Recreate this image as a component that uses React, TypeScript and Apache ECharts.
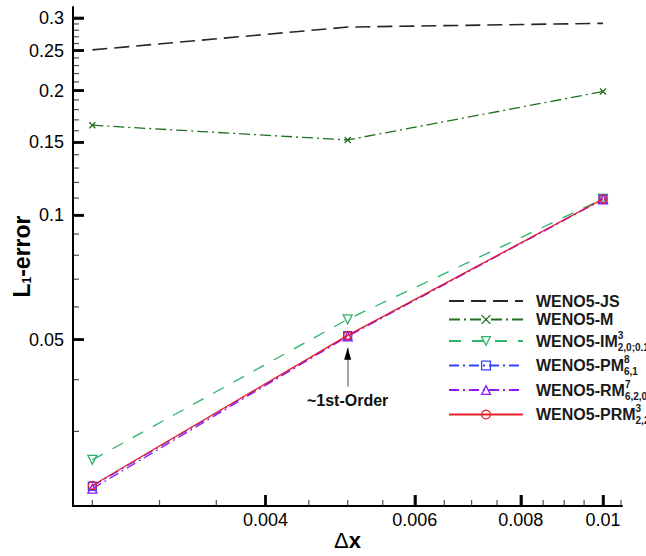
import { useEffect, useRef } from "react";
import * as echarts from "echarts";

// Grid spacing (Δx) at which each scheme was run
const DX = [0.0025, 0.005, 0.01];

// L1 errors per scheme
const ERR_JS = [0.251, 0.285, 0.291];
const ERR_M = [0.165, 0.152, 0.199];
const ERR_IM = [0.0256, 0.056, 0.1095];
const ERR_PM = [0.0221, 0.0511, 0.1094];
const ERR_RM = [0.0218, 0.0509, 0.1092];
const ERR_PRM = [0.0222, 0.0512, 0.1094];

const SERIES_NAMES = ["WENO5-JS", "WENO5-M", "WENO5-IM", "WENO5-PM", "WENO5-RM", "WENO5-PRM"];
const SUPERSCRIPTS = ["", "", "3", "8", "7", "3"];
const SUBSCRIPTS = ["", "", "2,0;0.1", "6,1", "6,2,0", "2,2"];

// Axis ticks (data units; both axes are logarithmic)
const X_LABEL_TICKS = [0.004, 0.006, 0.008, 0.01];
const X_MINOR_TICKS = [0.0025, 0.003, 0.0035, 0.0045, 0.005, 0.0055, 0.0065, 0.007, 0.0075, 0.0085, 0.009, 0.0095, 0.0105];
const Y_LABEL_TICKS = [0.05, 0.1, 0.15, 0.2, 0.25, 0.3];
const Y_MINOR_TICKS = [
  0.03, 0.04, 0.06, 0.07, 0.08, 0.09, 0.11, 0.12, 0.13, 0.14, 0.16, 0.17, 0.18, 0.19,
  0.21, 0.22, 0.23, 0.24, 0.26, 0.27, 0.28, 0.29,
];
const X_RANGE = [0.002372, 0.01053];
const Y_RANGE = [0.0198, 0.3187];

// Convergence-order annotation
const ORDER_NOTE = "~1st-Order";
const ORDER_ARROW_X = 0.005;
const ORDER_ARROW_FROM = 0.0385;
const ORDER_ARROW_TO = 0.0478;

const FONT = "'Liberation Sans', Arial, Helvetica, sans-serif";

const ERRORS = [ERR_JS, ERR_M, ERR_IM, ERR_PM, ERR_RM, ERR_PRM];

const LINE_LOOKS = [
  { color: "#262626", dash: [15, 7], symbol: "none", size: 0, width: 1.6 },
  { color: "#1f6f1f", dash: [11, 4, 2, 4], symbol: "path://M0,0L10,10M10,0L0,10", size: 6, width: 1.3 },
  { color: "#2fb36a", dash: [12, 11], symbol: "path://M0,0L10,0L5,9Z", size: 9, width: 1.3 },
  { color: "#3344ff", dash: [10, 4, 2, 4], symbol: "rect", size: 8, width: 1.3 },
  { color: "#8f14ff", dash: [10, 4, 2, 4], symbol: "triangle", size: 9, width: 1.3 },
  { color: "#e8202a", dash: "solid", symbol: "circle", size: 8, width: 1.3 },
];

const fmt = (v: number) => parseFloat(Number(v).toPrecision(3)).toString();

// Inward tick bars resting on the axis lines, placed through the log scales
function tickSeries(name: string, values: number[], along: "x" | "y", len: number, width: number, color: string) {
  return {
    name,
    type: "scatter",
    symbol: "rect",
    symbolSize: along === "x" ? [width, len] : [len, width],
    symbolOffset: along === "x" ? [0, -len / 2] : [len / 2, 0],
    itemStyle: { color },
    data: values.map((v) => (along === "x" ? [v, Y_RANGE[0]] : [X_RANGE[0], v])),
  };
}

export default function App() {
  const ref = useRef<HTMLDivElement>(null);

  useEffect(() => {
    if (!ref.current) return;
    const chart = echarts.init(ref.current, undefined, { renderer: "svg" });

    const series: any[] = SERIES_NAMES.map((name, i) => {
      const look = LINE_LOOKS[i];
      return {
        name,
        type: "line",
        data: DX.map((x, j) => [x, ERRORS[i][j]]),
        symbol: look.symbol,
        symbolSize: look.size,
        showSymbol: look.symbol !== "none",
        lineStyle: { color: look.color, width: look.width, type: look.dash },
        itemStyle: {
          color: "transparent",
          borderColor: look.symbol === "none" ? "transparent" : look.color,
          borderWidth: 1.3,
        },
        emphasis: { disabled: true },
        silent: true,
        z: 2 + i,
      };
    });

    const last = series[series.length - 1];
    last.markLine = {
      silent: true,
      symbol: ["none", "none"],
      lineStyle: { color: "#8c8c8c", width: 1.6, type: "solid" },
      label: {
        show: true,
        position: "start",
        formatter: ORDER_NOTE,
        color: "#111",
        fontSize: 16,
        fontWeight: "bold",
        fontFamily: FONT,
        distance: 6,
      },
      data: [[{ coord: [ORDER_ARROW_X, ORDER_ARROW_FROM] }, { coord: [ORDER_ARROW_X, ORDER_ARROW_TO] }]],
    };
    last.markPoint = {
      silent: true,
      symbol: "triangle",
      symbolSize: [7, 12],
      symbolOffset: [0, 6],
      itemStyle: { color: "#000" },
      label: { show: false },
      data: [{ coord: [ORDER_ARROW_X, ORDER_ARROW_TO] }],
    };

    series.push(
      tickSeries("xMajor", X_LABEL_TICKS, "x", 11, 2.5, "#000"),
      tickSeries("yMajor", Y_LABEL_TICKS, "y", 11, 2.5, "#000"),
      tickSeries("xMinor", X_MINOR_TICKS, "x", 6, 1.2, "#222"),
      tickSeries("yMinor", Y_MINOR_TICKS, "y", 6, 1.2, "#222")
    );

    const legendRich: any = {
      m: { fontSize: 16, fontWeight: "bold", fontFamily: FONT, color: "#1a1a1a", lineHeight: 22 },
      sup: { fontSize: 10, fontWeight: "bold", fontFamily: FONT, color: "#1a1a1a", verticalAlign: "top", width: 0 },
      sub: { fontSize: 10, fontWeight: "bold", fontFamily: FONT, color: "#1a1a1a", verticalAlign: "bottom" },
    };

    chart.setOption({
      animation: false,
      textStyle: { fontFamily: FONT },
      grid: { left: 73, right: 24, top: 7, bottom: 48 },
      legend: {
        orient: "vertical",
        left: 448,
        top: 293,
        padding: 0,
        itemGap: 2.5,
        itemWidth: 74,
        itemHeight: 11,
        selectedMode: false,
        itemStyle: { borderWidth: 1.3 },
        data: SERIES_NAMES,
        formatter: (name: string) => {
          const i = SERIES_NAMES.indexOf(name);
          let t = `{m|${name}}`;
          if (SUPERSCRIPTS[i]) t += `{sup|${SUPERSCRIPTS[i]}}`;
          if (SUBSCRIPTS[i]) t += `{sub|${SUBSCRIPTS[i]}}`;
          return t;
        },
        textStyle: { padding: [0, 0, 0, 8], rich: legendRich },
      },
      xAxis: {
        type: "log",
        min: X_RANGE[0],
        max: X_RANGE[1],
        name: "{d|Δ}{x|x}",
        nameLocation: "middle",
        nameGap: 23,
        nameMoveOverlap: false,
        nameTextStyle: {
          rich: {
            d: { fontSize: 22, fontFamily: FONT, color: "#000" },
            x: { fontSize: 22, fontWeight: "bold", fontFamily: FONT, color: "#000" },
          },
        },
        axisLine: { show: true, onZero: false, lineStyle: { color: "#000", width: 2 } },
        axisTick: { show: true, inside: true, length: 11, lineStyle: { color: "#000", width: 2.5 }, customValues: X_LABEL_TICKS },
        axisLabel: { customValues: X_LABEL_TICKS, formatter: fmt, color: "#000", fontSize: 18, fontFamily: FONT, margin: 5 },
        splitLine: { show: false },
      },
      yAxis: {
        type: "log",
        min: Y_RANGE[0],
        max: Y_RANGE[1],
        name: "{l|L}{s|1}{l|-error}",
        nameLocation: "middle",
        nameRotate: 90,
        nameGap: 40,
        nameMoveOverlap: false,
        nameTextStyle: {
          rich: {
            l: { fontSize: 23, fontWeight: "bold", fontFamily: FONT, color: "#000" },
            s: { fontSize: 12, fontWeight: "bold", fontFamily: FONT, color: "#000", verticalAlign: "bottom" },
          },
        },
        axisLine: { show: true, onZero: false, lineStyle: { color: "#000", width: 2 } },
        axisTick: { show: true, inside: true, length: 11, lineStyle: { color: "#000", width: 2.5 }, customValues: Y_LABEL_TICKS },
        axisLabel: { customValues: Y_LABEL_TICKS, formatter: fmt, color: "#000", fontSize: 18, fontFamily: FONT, margin: 9 },
        splitLine: { show: false },
      },
      series,
    });

    return () => chart.dispose();
  }, []);

  return (
    <div
      ref={ref}
      style={{ position: "absolute", left: 0, top: 0, width: 646, height: 556, background: "#fff" }}
    />
  );
}
